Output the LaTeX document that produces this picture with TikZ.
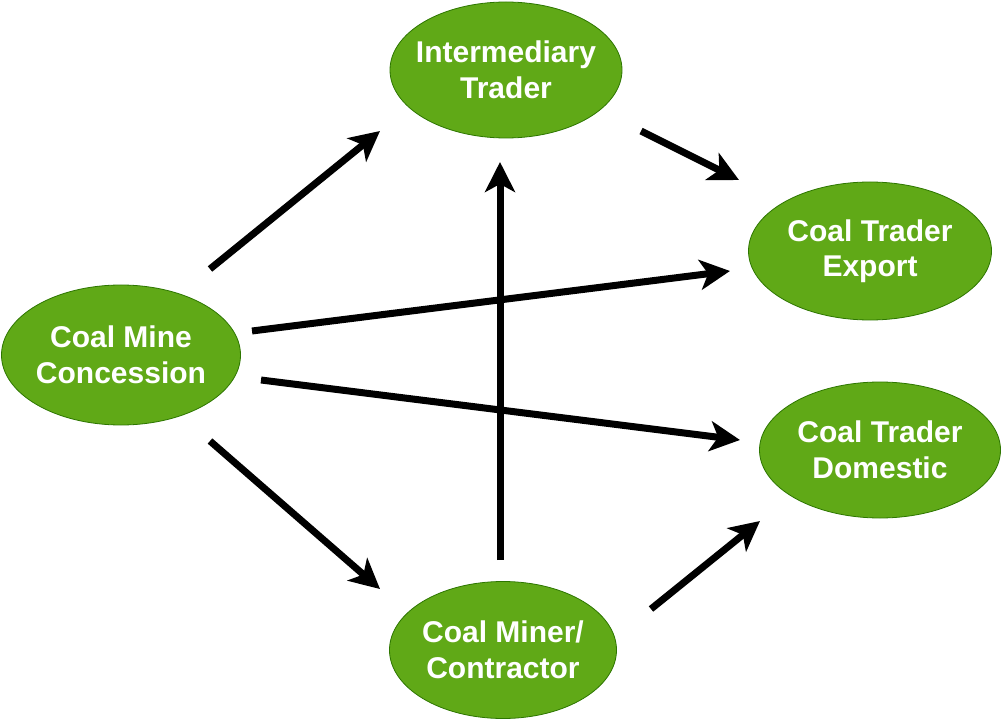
\documentclass[tikz,border=0pt]{standalone}
\usepackage{fontspec}
\setmainfont{Liberation Sans}
\usetikzlibrary{shapes.geometric,arrows.meta}
\definecolor{nodegreen}{HTML}{60A917}
\definecolor{nodeborder}{HTML}{2D7600}
\begin{document}
\begin{tikzpicture}[x=1pt,y=-1pt,
  actor/.style={ellipse,fill=nodegreen,draw=nodeborder,line width=0.8pt,inner xsep=-40pt,inner ysep=-10pt,align=center,text=white,font=\fontsize{30}{35.5}\selectfont\bfseries},
  flow/.style={line width=7pt,-{Stealth[length=30pt,width=30pt,inset=8pt]}}]
\useasboundingbox (0,0) rectangle (1002,722);
\node[actor,minimum width=232pt,minimum height=136pt] (inter) at (506,70) {Intermediary\\Trader};
\node[actor,minimum width=243pt,minimum height=138pt] (export) at (870,251) {Coal Trader\\Export};
\node[actor,minimum width=239pt,minimum height=140pt] (mine) at (121,355) {Coal Mine\\Concession};
\node[actor,minimum width=241pt,minimum height=136pt] (dom) at (880,450) {Coal Trader\\Domestic};
\node[actor,minimum width=227pt,minimum height=137pt] (miner) at (503,650) {Coal Miner/\\Contractor};
% free connector ends
\coordinate (a1s) at (210,269); \coordinate (a1e) at (380,131);
\coordinate (a2s) at (641,131); \coordinate (a2e) at (739,180);
\coordinate (a3s) at (252,331); \coordinate (a3e) at (730,271);
\coordinate (a4s) at (261,380); \coordinate (a4e) at (740,440);
\coordinate (a5s) at (210,441); \coordinate (a5e) at (380,589);
\coordinate (a6s) at (500,560); \coordinate (a6e) at (500,162);
\coordinate (a7s) at (651,609); \coordinate (a7e) at (760,521);
\draw[flow] (a1s) -- (a1e);
\draw[flow] (a2s) -- (a2e);
\draw[flow] (a3s) -- (a3e);
\draw[flow] (a4s) -- (a4e);
\draw[flow] (a5s) -- (a5e);
\draw[flow] (a6s) -- (a6e);
\draw[flow] (a7s) -- (a7e);
\end{tikzpicture}
\end{document}
